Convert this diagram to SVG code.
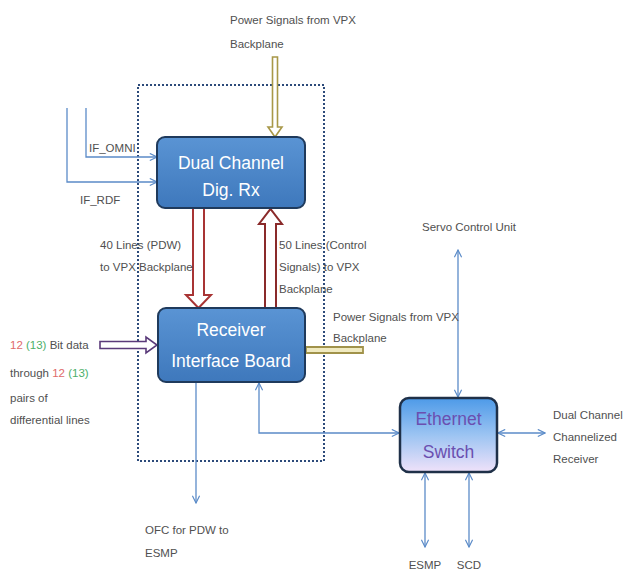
<svg xmlns="http://www.w3.org/2000/svg" width="624" height="574" viewBox="0 0 624 574">
<defs>
<style>
.t{font-family:"Liberation Sans",Arial,sans-serif;font-size:11.5px;fill:#505050}
.bt{font-family:"Liberation Sans",Arial,sans-serif;font-size:17.5px;fill:#fff;text-anchor:middle}
.et{font-family:"Liberation Sans",Arial,sans-serif;font-size:17.5px;fill:#6b4fb0;text-anchor:middle}
.ln{stroke:#5b8bc8;stroke-width:1.3;fill:none}
.box{fill:url(#gb);stroke:#1f3a5c;stroke-width:2}
</style>
<linearGradient id="gb" x1="0" y1="0" x2="0" y2="1">
<stop offset="0" stop-color="#5a94d4"/><stop offset="1" stop-color="#3e78bc"/>
</linearGradient>
<linearGradient id="ge" x1="0" y1="0" x2="0" y2="1">
<stop offset="0" stop-color="#4d9ae8"/><stop offset="0.5" stop-color="#9cc4f2"/><stop offset="1" stop-color="#f0e2fa"/>
</linearGradient>
<marker id="ah" viewBox="0 0 10 10" refX="9" refY="5" markerWidth="9" markerHeight="9" orient="auto-start-reverse" markerUnits="userSpaceOnUse">
<path d="M1,1 L9,5 L1,9" fill="none" stroke="#5b8bc8" stroke-width="1.3"/>
</marker>
</defs>
<rect width="624" height="574" fill="#fff"/>

<rect x="138" y="85" width="186" height="376" fill="none" stroke="#2c4a7a" stroke-width="2" stroke-dasharray="2,2"/>

<g id="connectors">
<polyline class="ln" points="86,108 86,157 157,157" marker-end="url(#ah)"/>
<polyline class="ln" points="67,108 67,182 157,182" marker-end="url(#ah)"/>
<path d="M272.5,57 H277.5 V127 H282 L275,137 L268,127 H272.5 Z" fill="#fff" stroke="#a89848" stroke-width="1.6"/>
<path d="M193,208 H204 V295 H211 L198.5,308 L186,295 H193 Z" fill="#fff" stroke="#a83434" stroke-width="2"/>
<path d="M265,308 H276 V224 H282 L270.5,209 L259,224 H265 Z" fill="#fff" stroke="#8a2a2a" stroke-width="2"/>
<path d="M100,341.5 H146 V337 L157,345 L146,353 V348.5 H100 Z" fill="#fff" stroke="#5a3a7a" stroke-width="1.6"/>
<path d="M306,347 H363 V353 H306 Z" fill="#f0eac0" stroke="#a0924a" stroke-width="1.8"/>
<polyline class="ln" points="259,383 259,433 399,433" marker-start="url(#ah)" marker-end="url(#ah)"/>
<line class="ln" x1="196" y1="383" x2="196" y2="503" marker-end="url(#ah)"/>
<line class="ln" x1="458" y1="250" x2="458" y2="397" marker-start="url(#ah)" marker-end="url(#ah)"/>
<line class="ln" x1="498" y1="433" x2="545" y2="433" marker-start="url(#ah)" marker-end="url(#ah)"/>
<line class="ln" x1="425" y1="473" x2="425" y2="547" marker-start="url(#ah)" marker-end="url(#ah)"/>
<line class="ln" x1="469" y1="473" x2="469" y2="547" marker-start="url(#ah)" marker-end="url(#ah)"/>
</g>

<g id="dual-channel">
<rect class="box" x="157" y="137" width="148" height="71" rx="8"/>
<text class="bt" x="231" y="169">Dual Channel</text>
<text class="bt" x="231" y="196">Dig. Rx</text>
</g>

<g id="receiver-interface">
<rect class="box" x="158" y="308" width="147" height="74" rx="8"/>
<text class="bt" x="231" y="336">Receiver</text>
<text class="bt" x="231" y="367">Interface Board</text>
</g>

<g id="ethernet-switch">
<rect x="400" y="398" width="97" height="74" rx="9" fill="url(#ge)" stroke="#1f3048" stroke-width="2.5"/>
<text class="et" x="448.5" y="425">Ethernet</text>
<text class="et" x="448.5" y="458">Switch</text>
</g>

<g id="labels">
<text class="t" x="230" y="24">Power Signals from VPX</text>
<text class="t" x="230" y="48">Backplane</text>
<text class="t" x="89" y="152">IF_OMNI</text>
<text class="t" x="80" y="204">IF_RDF</text>
<text class="t" x="100" y="249">40 Lines  (PDW)</text>
<text class="t" x="100" y="271">to VPX Backplane</text>
<text class="t" x="279" y="249">50 Lines (Control</text>
<text class="t" x="279" y="271">Signals) to VPX</text>
<text class="t" x="279" y="293">Backplane</text>
<text class="t" x="333" y="321">Power Signals from VPX</text>
<text class="t" x="333" y="342">Backplane</text>
<text class="t" x="10" y="349"><tspan fill="#e06a6a">12</tspan> <tspan fill="#4caf6a">(13)</tspan> Bit data</text>
<text class="t" x="10" y="377">through <tspan fill="#e06a6a">12</tspan> <tspan fill="#4caf6a">(13)</tspan></text>
<text class="t" x="10" y="402">pairs of</text>
<text class="t" x="10" y="424">differential lines</text>
<text class="t" x="422" y="231">Servo Control Unit</text>
<text class="t" x="553" y="419">Dual Channel</text>
<text class="t" x="553" y="441">Channelized</text>
<text class="t" x="553" y="463">Receiver</text>
<text class="t" x="145" y="534">OFC for PDW to</text>
<text class="t" x="145" y="557">ESMP</text>
<text class="t" x="425" y="569" text-anchor="middle">ESMP</text>
<text class="t" x="469" y="569" text-anchor="middle">SCD</text>
</g>
</svg>
